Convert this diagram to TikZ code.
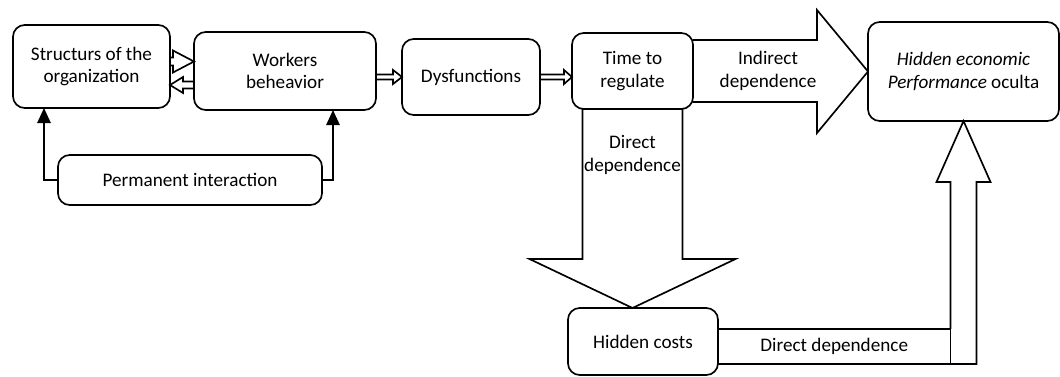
\documentclass[tikz,border=0pt]{standalone}
\usepackage{fontspec}
\setmainfont{Carlito}
\usetikzlibrary{shapes, calc, arrows.meta, positioning}

\tikzset{
    box/.style={draw, rounded corners=7pt, align=center, line width=1pt, inner sep=0pt, outer sep=0pt},
    blockarrow/.style={draw, line width=1pt, line join=miter},
    tri/.style={-{Triangle[width=8pt, length=9pt]}, line width=1pt},
}

\begin{document}
\begin{tikzpicture}[x=0.6pt, y=-0.6pt, font=\fontsize{11.5}{13.5}\selectfont]
    \useasboundingbox (0,0) rectangle (1060,376);

    \node[box, minimum width=94.2pt, minimum height=49.8pt] (struct) at (91.5,66.5) {Structurs of the\\organization};
    \node[box, minimum width=109.2pt, minimum height=46.8pt] (workers) at (285,71) {Workers\\beheavior};
    \node[box, minimum width=158.4pt, minimum height=30pt] (perm) at (190,180) {Permanent interaction};
    \node[box, minimum width=82.8pt, minimum height=45.6pt] (dysf) at (471,77) {Dysfunctions};
    \node[box, minimum width=72.6pt, minimum height=45.6pt] (time) at (632.5,71) {Time to\\regulate};
    \node[box, minimum width=90pt, minimum height=40.2pt] (hidden) at (643,341.5) {Hidden costs};
    \node[box, minimum width=114.6pt, minimum height=59.4pt] (perf) at (963.5,71.5) {\textit{Hidden economic}\\\textit{Performance} oculta};
    \node[draw, line width=1pt, inner sep=0pt, outer sep=0pt, minimum width=139.5pt, minimum height=21pt, anchor=west] (ddbottom) at ($(hidden.east)+(0,5)$) {Direct dependence};

    % permanent interaction feeds both boxes
    \draw[tri] (perm.west) -| ($(struct.south west)+(31,0)$);
    \draw[tri] (perm.east) -| ($(workers.south east)+(-43,0)$);

    % small block arrows between structure and workers
    \draw[blockarrow] ($(struct.east)+(0,-9)$) -- ++(3,0) -- ++(0,-7) -- ($(workers.west)+(0,-9.5)$)
        -- ($(struct.east)+(3,6)$) -- ++(0,-7) -- ++(-3,0);
    \draw[blockarrow] ($(workers.west)+(0,10.5)$) -- ++(-11,0) -- ++(0,-4.5) -- ($(struct.east)+(0,18.5)$)
        -- ($(workers.west)+(-11,22)$) -- ++(0,-4.5) -- ++(11,0);

    % hollow arrows along the chain
    \draw[blockarrow] ($(workers.east |- dysf.west)+(0,-2.5)$) -- ++(17,0) -- ++(0,-4.5) -- (dysf.west)
        -- ($(dysf.west)+(-9,7)$) -- ++(0,-4.5) -- ++(-17,0);
    \draw[blockarrow] ($(dysf.east)+(0,-2.5)$) -- ++(24,0) -- ++(0,-4.5) -- (time.west |- dysf.east)
        -- ($(dysf.east)+(24,7)$) -- ++(0,-4.5) -- ++(-24,0);

    % indirect dependence
    \draw[blockarrow] ($(time.east)+(0,-31)$) -- ++(124,0) -- ++(0,-30) -- (perf.west)
        -- ($(time.east)+(124,62)$) -- ++(0,-31) -- ($(time.east)+(0,31)$);
    \node[align=center] (indtext) at ($(time.east)+(75,0)$) {Indirect\\dependence};

    % direct dependence to hidden costs
    \draw[blockarrow] ($(time.south)+(-50,0)$) -- ++(0,150) -- ++(-53,0) -- ($(time.south)+(0,199)$)
        -- ($(time.south)+(103,150)$) -- ++(-53,0) -- ($(time.south)+(50,0)$);
    \node[align=center] (dirtext) at ($(time.south)+(0,46)$) {Direct\\dependence};

    % hidden costs back to performance
    \coordinate (upbase) at ($(perf.south)+(0,61)$);
    \draw[blockarrow] (ddbottom.south east) -- ++(26,0) -- ($(upbase)+(13,0)$) -- ++(14,0) -- (perf.south)
        -- ($(upbase)+(-27,0)$) -- ++(14,0) -- (ddbottom.north east);
\end{tikzpicture}
\end{document}
